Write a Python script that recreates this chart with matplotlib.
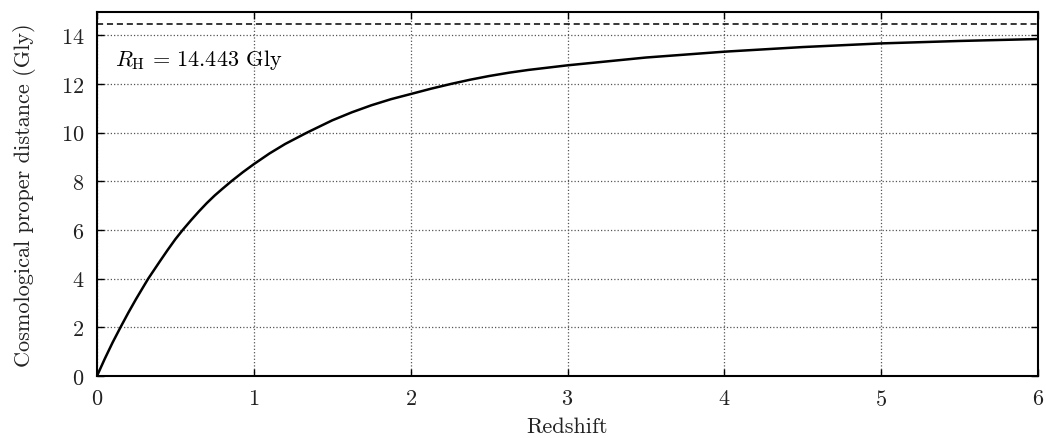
import matplotlib
matplotlib.use("Agg")
import matplotlib.pyplot as plt

plt.rcParams['font.family'] = ['cmr10', 'DejaVu Serif']
plt.rcParams['mathtext.fontset'] = 'cm'
plt.rcParams['axes.formatter.use_mathtext'] = True

# Data
redshift = [0, 0.05, 0.1, 0.15, 0.2, 0.25, 0.3, 0.327, 0.4, 0.45, 0.5, 0.547,
            0.6, 0.65, 0.7, 0.75, 0.8, 0.859, 0.93, 1.0, 1.1, 1.2, 1.34, 1.5, 1.625, 1.75,
            1.875, 2.0, 2.13, 2.26, 2.38, 2.5, 2.63, 2.75, 3.0, 3.5, 4.0, 4.5, 5.0, 5.5, 6.0]
distance_gly = [0, 0.71, 1.38, 2.0, 2.60, 3.17, 3.71, 4.0, 4.70, 5.17, 5.62, 6.0,
                6.40, 6.76, 7.10, 7.41, 7.69, 8.01, 8.37, 8.70, 9.14, 9.53, 10.0, 10.50, 10.83, 11.12,
                11.37, 11.58, 11.80, 12.0, 12.17, 12.32, 12.46, 12.57, 12.76, 13.08, 13.32, 13.51, 13.66, 13.76, 13.84]
hubble_radius = 14.443
x_ticks = [0, 1, 2, 3, 4, 5, 6]
y_ticks = [0, 2, 4, 6, 8, 10, 12, 14]

fig = plt.figure(figsize=(10.46, 4.39), dpi=100)
ax = fig.add_axes([0.0927, 0.1412, 0.8997, 0.8292])

ax.plot(redshift, distance_gly, color='black', lw=1.8, solid_capstyle='butt',
        solid_joinstyle='round')
ax.axhline(hubble_radius, color='black', lw=1.1, ls=(0, (4, 2.5)))
ax.text(0.115, 13.0, r'$R_{\mathrm{H}}\,=\,14.443$ Gly', fontsize=16,
        ha='left', va='center')

ax.set_xlim(0, 6)
ax.set_ylim(0, 14.95)
ax.set_xticks(x_ticks)
ax.set_yticks(y_ticks)
ax.grid(True, ls=':', color='#555555', lw=0.9)
ax.tick_params(direction='in', length=5, width=1.0, top=True, right=True,
               labelsize=16, pad=9, labelcolor='#222222')
for s in ax.spines.values():
    s.set_linewidth(1.5)

ax.set_xlabel('Redshift', fontsize=16, labelpad=6, color='#222222')
ax.set_ylabel('Cosmological proper distance (Gly)', fontsize=16, labelpad=18,
              color='#222222')

fig.savefig('out.png', dpi=100)
